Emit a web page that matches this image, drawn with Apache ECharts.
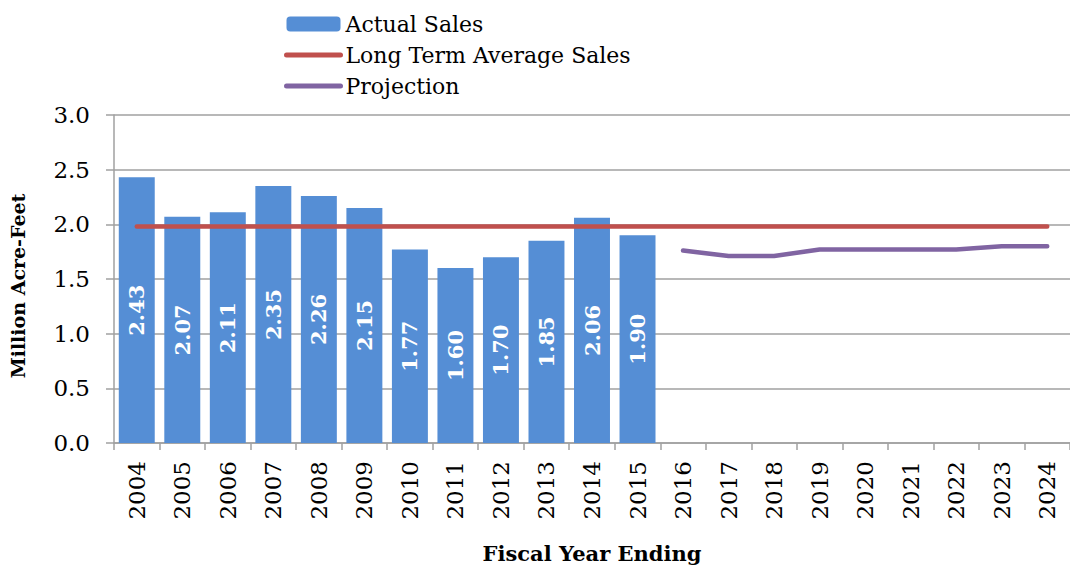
<!DOCTYPE html>
<html>
<head>
<meta charset="utf-8">
<script src="https://cdn.jsdelivr.net/npm/echarts@6/dist/echarts.min.js"></script>
<style>
  html, body { margin: 0; padding: 0; background: #fff; }
  #chart { width: 1070px; height: 569px; }
</style>
</head>
<body>
<div id="chart"></div>
<script>
var years = ['2004', '2005', '2006', '2007', '2008', '2009', '2010', '2011', '2012', '2013', '2014',
  '2015', '2016', '2017', '2018', '2019', '2020', '2021', '2022', '2023', '2024'];
var actualSales = [2.43, 2.07, 2.11, 2.35, 2.26, 2.15, 1.77, 1.60, 1.70, 1.85, 2.06, 1.90];
var longTermAvg = [1.98, 1.98, 1.98, 1.98, 1.98, 1.98, 1.98, 1.98, 1.98, 1.98, 1.98,
  1.98, 1.98, 1.98, 1.98, 1.98, 1.98, 1.98, 1.98, 1.98, 1.98];
var projection = [null, null, null, null, null, null, null, null, null, null, null, null,
  1.76, 1.71, 1.71, 1.77, 1.77, 1.77, 1.77, 1.80, 1.80];

var serif = '"DejaVu Serif", "Liberation Serif", serif';
var gray = '#a0a0a0';

var chart = echarts.init(document.getElementById('chart'), null, { renderer: 'svg' });
chart.setOption({
  animation: false,
  textStyle: { fontFamily: serif },
  legend: {
    orient: 'vertical',
    left: 279,
    top: 8,
    itemWidth: 54,
    itemHeight: 15,
    itemGap: 9,
    textStyle: { fontFamily: serif, fontSize: 22, color: '#000' },
    data: [
      { name: 'Actual Sales' },
      { name: 'Long Term Average Sales', itemStyle: { opacity: 0 }, lineStyle: { width: 5, cap: 'round' } },
      { name: 'Projection', itemStyle: { opacity: 0 }, lineStyle: { width: 5, cap: 'round' } }
    ]
  },
  grid: { left: 112, right: -10, top: 115, bottom: 122 },
  xAxis: {
    type: 'category',
    data: years,
    name: 'Fiscal Year Ending',
    nameLocation: 'middle',
    nameGap: 100,
    nameTextStyle: { fontFamily: serif, fontSize: 21, fontWeight: 'bold', color: '#000' },
    axisLine: { lineStyle: { color: gray, width: 1.5 } },
    axisTick: { show: true, length: 7, lineStyle: { color: gray, width: 1.5 } },
    axisLabel: { rotate: 90, margin: 18, fontSize: 23, color: '#000', fontFamily: serif, interval: 0 }
  },
  yAxis: {
    type: 'value',
    min: 0,
    max: 3,
    interval: 0.5,
    name: 'Million Acre-Feet',
    nameLocation: 'middle',
    nameGap: 87,
    nameTextStyle: { fontFamily: serif, fontSize: 19, fontWeight: 'bold', color: '#000', padding: [0, 14, 0, 0] },
    axisLine: { show: true, lineStyle: { color: gray, width: 1.5 } },
    axisTick: { show: true, length: 8, lineStyle: { color: gray, width: 1.5 } },
    axisLabel: {
      fontSize: 23, color: '#000', fontFamily: serif, margin: 24,
      formatter: function(v) { return v.toFixed(1); }
    },
    splitLine: { lineStyle: { color: gray, width: 1.5 } }
  },
  series: [
    {
      name: 'Actual Sales',
      type: 'bar',
      data: actualSales,
      barCategoryGap: '21%',
      itemStyle: { color: '#558ed5' },
      label: {
        show: true,
        position: 'inside',
        rotate: 90,
        color: '#fff',
        fontFamily: serif,
        fontWeight: 'bold',
        fontSize: 21,
        formatter: function(p) { return p.value.toFixed(2); }
      }
    },
    {
      name: 'Long Term Average Sales',
      type: 'line',
      data: longTermAvg,
      symbol: 'none',
      itemStyle: { color: '#c0504d' },
      lineStyle: { color: '#c0504d', width: 4.5, cap: 'round' }
    },
    {
      name: 'Projection',
      type: 'line',
      data: projection,
      symbol: 'none',
      itemStyle: { color: '#8064a2' },
      lineStyle: { color: '#8064a2', width: 4.5, cap: 'round' }
    }
  ]
});
</script>
</body>
</html>
